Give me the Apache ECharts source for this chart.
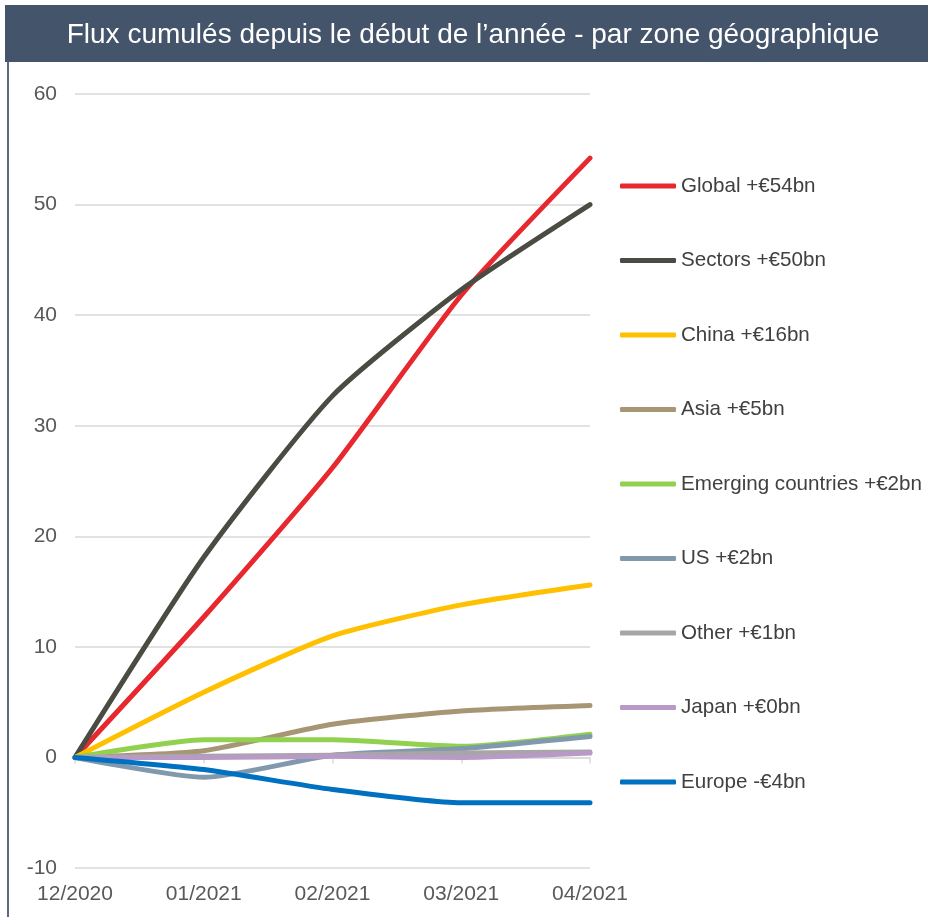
<!DOCTYPE html>
<html>
<head>
<meta charset="utf-8">
<script src="https://cdn.jsdelivr.net/npm/echarts@6/dist/echarts.min.js"></script>
<style>
  html, body { margin: 0; padding: 0; background: #ffffff; }
  #chart { width: 928px; height: 917px; }
</style>
</head>
<body>
<div id="chart"></div>
<script>
// Months on the horizontal axis
const months = ['12/2020', '01/2021', '02/2021', '03/2021', '04/2021'];

// Cumulative year-to-date flows (EUR bn) by zone
const globalFlows    = [0, 12.7, 26.2, 41.8, 54.2];
const sectorsFlows   = [0, 18.1, 32.7, 42.3, 50.0];
const chinaFlows     = [0, 5.9, 11.0, 13.8, 15.6];
const asiaFlows      = [0, 0.6, 3.0, 4.2, 4.7];
const emergingFlows  = [0, 1.6, 1.6, 1.0, 2.1];
const usFlows        = [0, -1.8, 0.2, 0.8, 1.9];
const otherFlows     = [0, 0.1, 0.2, 0.4, 0.5];
const japanFlows     = [0, 0.0, 0.1, 0.0, 0.4];
const europeFlows    = [0, -1.1, -2.9, -4.1, -4.1];

// Legend names
const seriesNames = [
  'Global +€54bn', 'Sectors +€50bn', 'China +€16bn', 'Asia +€5bn',
  'Emerging countries +€2bn', 'US +€2bn', 'Other +€1bn', 'Japan +€0bn', 'Europe -€4bn'
];
const seriesData = [
  globalFlows, sectorsFlows, chinaFlows, asiaFlows,
  emergingFlows, usFlows, otherFlows, japanFlows, europeFlows
];
const seriesColors = [
  '#E8282F', '#4A4C43', '#FFC000', '#A69674',
  '#92D050', '#8099AD', '#A6A6A6', '#B99AC6', '#0070C0'
];

const chart = echarts.init(document.getElementById('chart'), null, { renderer: 'canvas' });

const fontFamily = '"Liberation Sans", Arial, sans-serif';

chart.setOption({
  animation: false,
  backgroundColor: '#ffffff',
  textStyle: { fontFamily: fontFamily },
  graphic: [
    { type: 'rect', z: -1, shape: { x: 5, y: 5, width: 923, height: 57 }, style: { fill: '#44546A' } },
    { type: 'rect', z: -1, shape: { x: 7, y: 62, width: 2, height: 855 }, style: { fill: '#5B6B7E' } }
  ],
  title: {
    text: 'Flux cumulés depuis le début de l’année - par zone géographique',
    left: 468,
    textAlign: 'center',
    top: 16,
    textStyle: { color: '#ffffff', fontSize: 28, fontWeight: 'normal', fontFamily: fontFamily }
  },
  legend: {
    orient: 'vertical',
    left: 615,
    top: 169,
    icon: 'roundRect',
    itemWidth: 56,
    itemHeight: 5,
    itemGap: 50.5,
    data: seriesNames,
    textStyle: { color: '#404040', fontSize: 20.6, lineHeight: 24, fontFamily: fontFamily },
    selectedMode: false
  },
  grid: { left: 75, right: 338, top: 94, bottom: 49, containLabel: false },
  xAxis: [
    {
      type: 'category',
      data: months,
      boundaryGap: false,
      axisLine: { show: false, onZero: false },
      axisTick: { show: false },
      axisLabel: { color: '#595959', fontSize: 21, margin: 16, fontFamily: fontFamily }
    },
    {
      type: 'category',
      data: months,
      boundaryGap: false,
      position: 'bottom',
      axisLine: { show: true, onZero: true, lineStyle: { color: '#D9D9D9', width: 1.5 } },
      axisTick: { show: true, length: 6, lineStyle: { color: '#D9D9D9', width: 1.5 } },
      axisLabel: { show: false }
    }
  ],
  yAxis: {
    type: 'value',
    min: -10,
    max: 60,
    interval: 10,
    axisLine: { show: false },
    axisTick: { show: false },
    axisLabel: { color: '#595959', fontSize: 21, margin: 18, fontFamily: fontFamily },
    splitLine: { lineStyle: { color: '#D9D9D9', width: 1.5 } }
  },
  series: seriesNames.map((name, i) => ({
    name: name,
    type: 'line',
    data: seriesData[i],
    xAxisIndex: 0,
    symbol: 'none',
    smooth: 0.2,
    color: seriesColors[i],
    lineStyle: { width: 5, color: seriesColors[i], cap: 'round', join: 'round' }
  }))
});
</script>
</body>
</html>
